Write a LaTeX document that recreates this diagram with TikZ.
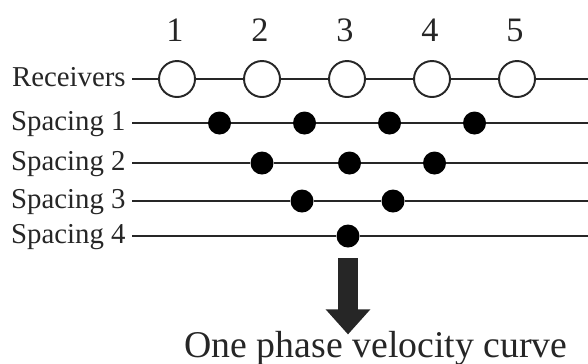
\documentclass[tikz,border=0pt]{standalone}
\usepackage{fontspec}
\setmainfont{Liberation Serif}
\usetikzlibrary{arrows.meta,calc}
\definecolor{Ink}{HTML}{262626}

\begin{document}
\begin{tikzpicture}[
  every node/.style={text=Ink},
  num/.style={font=\fontsize{19.5}{22}\selectfont, inner sep=0pt},
  lbl/.style={font=\fontsize{16.4}{19}\selectfont, anchor=east, inner sep=0pt,
              inner xsep=0.12cm, text height=0.4cm, text depth=0.12cm},
  rcv/.style={circle, draw=Ink, line width=1.1pt, fill=white,
              minimum size=0.72cm, inner sep=0pt},
  spot/.style={circle, fill=black, minimum size=0.46cm, inner sep=0pt},
  ln/.style={draw=Ink, line width=1.1pt},
  bigarr/.style={draw=black!85, line width=0.4cm,
                 -{Triangle[width=0.86cm,length=0.5cm]}},
]
\useasboundingbox (0,0) rectangle (11.76,-7.26);

%% ─ Receiver numbers ─────────────────────────────────────────────────────────
\node[num] (n1) at ( 3.50,-0.60) {1};
\node[num] (n2) at ( 5.20,-0.60) {2};
\node[num] (n3) at ( 6.90,-0.60) {3};
\node[num] (n4) at ( 8.60,-0.60) {4};
\node[num] (n5) at (10.30,-0.60) {5};

%% ─ Row labels ───────────────────────────────────────────────────────────────
\node[lbl] (lR)  at (2.64,-1.58) {Receivers};
\node[lbl] (lS1) at (2.64,-2.46) {Spacing 1};
\node[lbl] (lS2) at (2.64,-3.26) {Spacing 2};
\node[lbl] (lS3) at (2.64,-4.02) {Spacing 3};
\node[lbl] (lS4) at (2.64,-4.72) {Spacing 4};

%% ─ Right ends of the rows ───────────────────────────────────────────────────
\coordinate (eR)  at (11.76,-1.58);
\coordinate (eS1) at (11.76,-2.46);
\coordinate (eS2) at (11.76,-3.26);
\coordinate (eS3) at (11.76,-4.02);
\coordinate (eS4) at (11.76,-4.72);

%% ─ Receivers ────────────────────────────────────────────────────────────────
\node[rcv] (r1) at ( 3.54,-1.58) {};
\node[rcv] (r2) at ( 5.24,-1.58) {};
\node[rcv] (r3) at ( 6.94,-1.58) {};
\node[rcv] (r4) at ( 8.64,-1.58) {};
\node[rcv] (r5) at (10.34,-1.58) {};

%% ─ Midpoints per spacing ────────────────────────────────────────────────────
\node[spot] (d11) at (4.39,-2.46) {};
\node[spot] (d12) at (6.09,-2.46) {};
\node[spot] (d13) at (7.79,-2.46) {};
\node[spot] (d14) at (9.49,-2.46) {};

\node[spot] (d21) at (5.24,-3.26) {};
\node[spot] (d22) at (6.99,-3.26) {};
\node[spot] (d23) at (8.69,-3.26) {};

\node[spot] (d31) at (6.04,-4.02) {};
\node[spot] (d32) at (7.86,-4.02) {};

\node[spot] (d41) at (6.96,-4.72) {};

%% ─ Row lines ────────────────────────────────────────────────────────────────
\draw[ln] (lR.east)  -- (r1) -- (r2) -- (r3) -- (r4) -- (r5) -- (eR);
\draw[ln] (lS1.east) -- (d11) -- (d12) -- (d13) -- (d14) -- (eS1);
\draw[ln] (lS2.east) -- (d21) -- (d22) -- (d23) -- (eS2);
\draw[ln] (lS3.east) -- (d31) -- (d32) -- (eS3);
\draw[ln] (lS4.east) -- (d41) -- (eS4);

%% ─ Result ───────────────────────────────────────────────────────────────────
\node[font=\fontsize{21.5}{25}\selectfont, anchor=base, inner sep=0pt]
     (curve) at (7.52,-7.14) {One phase velocity curve};
\draw[bigarr, shorten <=0.21cm, shorten >=-0.08cm]
     (d41.south) -- (d41.south |- curve.north);

\end{tikzpicture}
\end{document}
